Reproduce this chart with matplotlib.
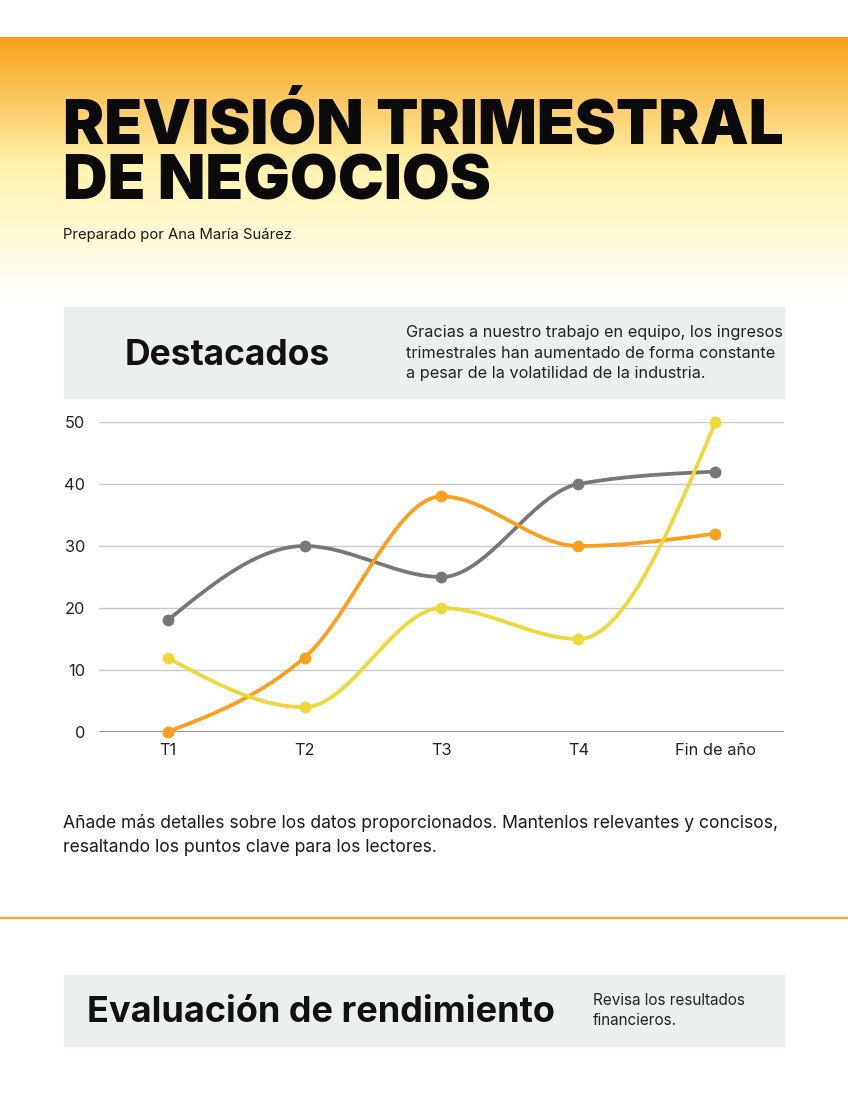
import numpy as np
import matplotlib
matplotlib.use("Agg")
import matplotlib.pyplot as plt
from matplotlib.patches import Rectangle
from matplotlib.colors import LinearSegmentedColormap

# data
categories = ["T1", "T2", "T3", "T4", "Fin de año"]
serie_gris = [18, 30, 25, 40, 42]
serie_naranja = [0, 12, 38, 30, 32]
serie_amarilla = [12, 4, 20, 15, 50]
y_ticks = [0, 10, 20, 30, 40, 50]

W, H = 848, 1097
plt.rcParams['font.family'] = ['Inter', 'DejaVu Sans']


def fx(px):
    return px / W


def fy(py):
    return 1 - py / H


def monotone(y, n=40):
    # monotone cubic (like d3 curveMonotoneX), x spaced by 1
    y = np.asarray(y, float)
    d = np.diff(y)
    m = np.zeros_like(y)
    for k in range(1, len(y) - 1):
        s0, s1 = d[k - 1], d[k]
        p = (s0 + s1) / 2
        m[k] = (np.sign(s0) + np.sign(s1)) * min(abs(s0), abs(s1), 0.5 * abs(p))
    m[0] = (3 * d[0] - m[1]) / 2
    m[-1] = (3 * d[-1] - m[-2]) / 2
    xs, ys = [], []
    for k in range(len(y) - 1):
        t = np.linspace(0, 1, n, endpoint=(k == len(y) - 2))
        h00 = 2 * t**3 - 3 * t**2 + 1
        h10 = t**3 - 2 * t**2 + t
        h01 = -2 * t**3 + 3 * t**2
        h11 = t**3 - t**2
        xs.append(k + t)
        ys.append(h00 * y[k] + h10 * m[k] + h01 * y[k + 1] + h11 * m[k + 1])
    return np.concatenate(xs), np.concatenate(ys)


fig = plt.figure(figsize=(W / 100, H / 100), dpi=100)

# header gradient
bg = fig.add_axes([0, fy(300), 1, (300 - 37) / H], zorder=0)
cmap = LinearSegmentedColormap.from_list(
    "hdr", [(0, "#F9A01B"), (0.5, "#FFF4AE"), (1, "#FFFFFF")])
bg.imshow(np.linspace(0, 1, 256).reshape(-1, 1), aspect="auto", cmap=cmap,
          extent=[0, 1, 0, 1])
bg.axis("off")

fig.text(fx(63), fy(143), "REVISIÓN TRIMESTRAL", fontsize=44.5, fontweight="black",
         color="#0a0a0a", va="baseline", zorder=5)
fig.text(fx(63), fy(200), "DE NEGOCIOS", fontsize=44.5, fontweight="black",
         color="#0a0a0a", va="baseline", zorder=5)
fig.text(fx(63), fy(239), "Preparado por Ana María Suárez", fontsize=10.7,
         color="#1a1a1a", va="baseline", zorder=5)

# highlight box
fig.patches.append(Rectangle((fx(64), fy(398)), (784 - 64) / W, (398 - 307) / H,
                             transform=fig.transFigure, color="#ECEFF0", zorder=0))
fig.text(fx(125), fy(365), "Destacados", fontsize=25.5, fontweight="bold",
         color="#111111", va="baseline")
parrafo = ["Gracias a nuestro trabajo en equipo, los ingresos",
           "trimestrales han aumentado de forma constante",
           "a pesar de la volatilidad de la industria."]
for i, linea in enumerate(parrafo):
    fig.text(fx(406), fy(337 + i * 20.5), linea, fontsize=11.7, color="#222222",
             va="baseline")

# chart
ax = fig.add_axes([fx(99), fy(732), (784 - 99) / W, (732 - 422) / H])
x = np.arange(len(categories))
for serie, col in [(serie_gris, "#777777"), (serie_naranja, "#FA9E1B"),
                   (serie_amarilla, "#EFD737")]:
    sx, sy = monotone(serie)
    ax.plot(sx, sy, color=col, lw=2.7, clip_on=False, zorder=3,
            solid_capstyle="round")
    ax.plot(x, serie, "o", color=col, ms=7.5, clip_on=False, zorder=4)

ax.set_xlim(-0.5, len(categories) - 0.5)
ax.set_ylim(0, 50)
ax.set_yticks(y_ticks)
ax.set_xticks(x)
ax.set_xticklabels(categories)
for s in ax.spines.values():
    s.set_visible(False)
ax.axhline(0, color="#888888", lw=1.2, zorder=2)
ax.yaxis.grid(True, color="#C9C9C9", lw=1)
ax.set_axisbelow(True)
ax.tick_params(axis="both", length=0, labelsize=11.8, labelcolor="#222222")
ax.tick_params(axis="y", pad=10)
ax.tick_params(axis="x", pad=8)

notas = ["Añade más detalles sobre los datos proporcionados. Mantenlos relevantes y concisos,",
         "resaltando los puntos clave para los lectores."]
for i, linea in enumerate(notas):
    fig.text(fx(63), fy(828 + i * 24.5), linea, fontsize=12.6, color="#1a1a1a",
             va="baseline")

# separator
fig.add_artist(plt.Line2D([0, 1], [fy(917.5), fy(917.5)], color="#F8A431", lw=1.6))

# second box
fig.patches.append(Rectangle((fx(64), fy(1046)), (784 - 64) / W, (1046 - 975) / H,
                             transform=fig.transFigure, color="#ECEFF0", zorder=0))
fig.text(fx(87), fy(1022), "Evaluación de rendimiento", fontsize=26,
         fontweight="bold", color="#111111", va="baseline")
fig.text(fx(593), fy(1005), "Revisa los resultados", fontsize=11, color="#222222",
         va="baseline")
fig.text(fx(593), fy(1025), "financieros.", fontsize=11, color="#222222",
         va="baseline")

fig.savefig("out.png", dpi=100)
